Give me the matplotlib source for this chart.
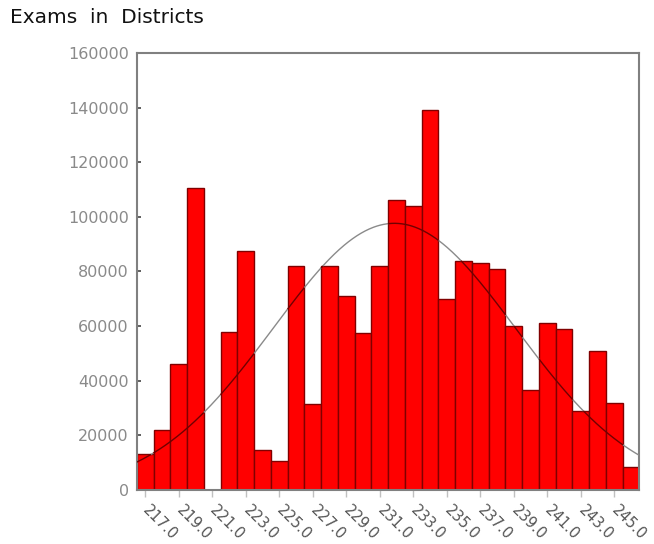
import numpy as np
import matplotlib
matplotlib.use("Agg")
import matplotlib.pyplot as plt
from matplotlib.transforms import ScaledTranslation

# Number of exams per district value (one bar per integer value)
district_values = list(range(217, 247))
exam_counts = [13000, 22000, 46000, 110500, 0, 58000, 87500, 14500, 10500, 82000,
               31500, 82000, 71000, 57500, 82000, 106000, 104000, 139000, 70000, 84000,
               83000, 81000, 60000, 36500, 61000, 59000, 29000, 51000, 32000, 8500]
tick_values = list(range(217, 247, 2))
tick_labels = [f"{v:.1f}" for v in tick_values]
y_ticks = list(range(0, 160001, 20000))

fig = plt.figure(figsize=(6.54, 5.44), dpi=100)
ax = fig.add_axes([0.2095, 0.0993, 0.768, 0.8033])

x = np.array(district_values, dtype=float)
h = np.array(exam_counts, dtype=float)
ax.bar(x, h, width=1.0, color="#ff0000", edgecolor="#800000", linewidth=1.0, zorder=2)

# Normal curve fitted to the distribution (mean, sd, total count)
total = h.sum()
mean = (x * h).sum() / total
sd = np.sqrt(((x - mean) ** 2 * h).sum() / total)
xs = np.linspace(216.5, 246.5, 600)
ys = total / (sd * np.sqrt(2 * np.pi)) * np.exp(-0.5 * ((xs - mean) / sd) ** 2)

idx = np.clip(np.round(xs - 217).astype(int), 0, len(h) - 1)
inside = ys <= h[idx]
ax.plot(xs, np.where(inside, np.nan, ys), color="#8a8a8a", lw=1.0, zorder=3)
ax.plot(xs, np.where(inside, ys, np.nan), color="#700000", lw=1.0, zorder=3)

ax.set_xlim(216.5, 246.5)
ax.set_ylim(0, 160000)
ax.set_yticks(y_ticks)
ax.set_yticklabels([str(v) for v in y_ticks], color="#8a8a8a", fontsize=11.5)
ax.set_xticks(tick_values)
ax.set_xticklabels(tick_labels, rotation=-45, ha="left", va="center",
                   rotation_mode="anchor", color="#555555", fontsize=10.5)
shift = ScaledTranslation(0.09, 0.0, fig.dpi_scale_trans)
for lbl in ax.get_xticklabels():
    lbl.set_transform(lbl.get_transform() + shift)

for s in ax.spines.values():
    s.set_color("#808080")
    s.set_linewidth(1.5)
ax.tick_params(axis="y", direction="in", length=3, width=1.2, color="#444444", pad=6)
ax.tick_params(axis="x", direction="out", length=5, width=1.0, color="#c0c0c0", pad=8)

fig.text(0.016, 0.968, "Exams  in  Districts", fontsize=14.5, color="#111111",
         ha="left", va="center")

fig.savefig("out.png", dpi=100)
